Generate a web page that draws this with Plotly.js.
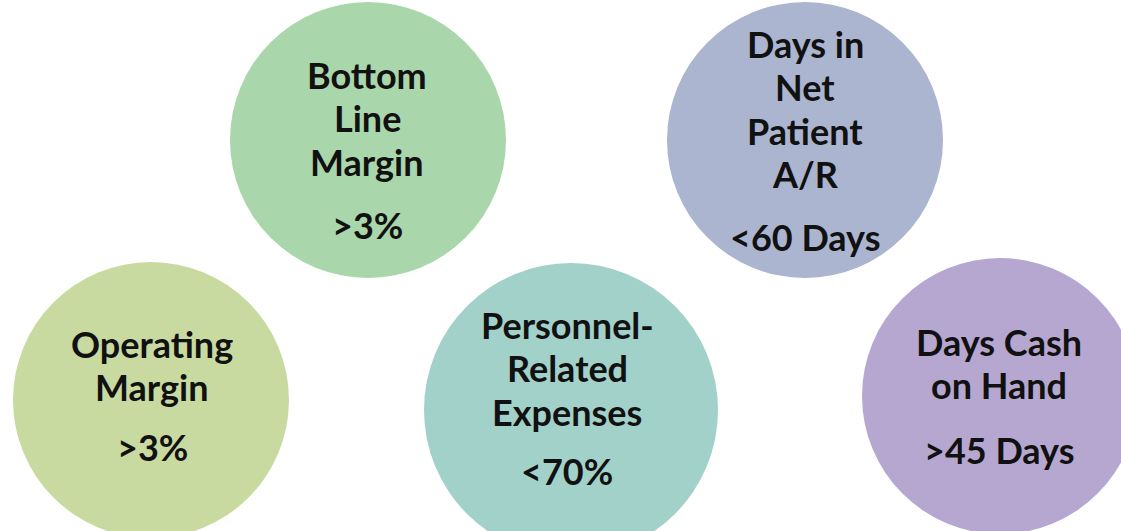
<!DOCTYPE html>
<html>
<head>
<meta charset="utf-8">
<script src="https://cdn.plot.ly/plotly-3.0.1.min.js"></script>
<style>
  html, body { margin: 0; padding: 0; background: #ffffff; }
  #chart { width: 1121px; height: 531px; }
</style>
</head>
<body>
<div id="chart"></div>
<script>
// ---- data ----
const metrics = ["Bottom Line Margin", "Days in Net Patient A/R", "Operating Margin", "Personnel-Related Expenses", "Days Cash on Hand"];
const labelLines = [
  ["Bottom", "Line", "Margin"],
  ["Days in", "Net", "Patient", "A/R"],
  ["Operating", "Margin"],
  ["Personnel-", "Related", "Expenses"],
  ["Days Cash", "on Hand"]
];
const targets = [">3%", "<60 Days", ">3%", "<70%", ">45 Days"];

// ---- layout (positions / styles) ----
const circleX = [368, 805, 151, 571, 1000];
const circleY = [140, 140, 400, 410, 396];
const circleR = [138, 138, 138, 147, 138];
const circleColors = ["#a9d6ab", "#abb5d0", "#c9daa1", "#a2d1c9", "#b6a7d0"];
const textX = [367, 805, 152, 567, 999];
const firstBaseline = [88, 57, 357, 338, 355];
const targetBaseline = [238, 250, 460, 484, 463];
const lineGap = 43.5;
const fontSize = 36;
const midOffset = 0.37 * fontSize;

const shapes = metrics.map((m, i) => ({
  type: "circle", xref: "x", yref: "y",
  x0: circleX[i] - circleR[i], x1: circleX[i] + circleR[i],
  y0: circleY[i] - circleR[i], y1: circleY[i] + circleR[i],
  fillcolor: circleColors[i], line: { width: 0 }, layer: "below"
}));

const font = { family: "Lato, 'Open Sans', sans-serif", size: fontSize, color: "#111111", weight: 700 };
const annotations = [];
labelLines.forEach((lines, i) => {
  lines.forEach((t, j) => {
    annotations.push({
      x: textX[i], y: firstBaseline[i] + j * lineGap - midOffset, xref: "x", yref: "y",
      text: t, showarrow: false, xanchor: "center", yanchor: "middle", font: font
    });
  });
  annotations.push({
    x: textX[i], y: targetBaseline[i] - midOffset, xref: "x", yref: "y",
    text: targets[i], showarrow: false, xanchor: "center", yanchor: "middle", font: font
  });
});

const trace = {
  type: "scatter", mode: "markers", x: circleX, y: circleY,
  marker: { size: 1, opacity: 0 }, hoverinfo: "skip", showlegend: false
};

const layout = {
  width: 1121, height: 531,
  margin: { l: 0, r: 0, t: 0, b: 0 },
  paper_bgcolor: "#ffffff", plot_bgcolor: "#ffffff",
  xaxis: { range: [0, 1121], visible: false, fixedrange: true },
  yaxis: { range: [531, 0], visible: false, fixedrange: true },
  shapes: shapes, annotations: annotations, showlegend: false
};

Plotly.newPlot("chart", [trace], layout, { displayModeBar: false, staticPlot: true });
</script>
</body>
</html>
